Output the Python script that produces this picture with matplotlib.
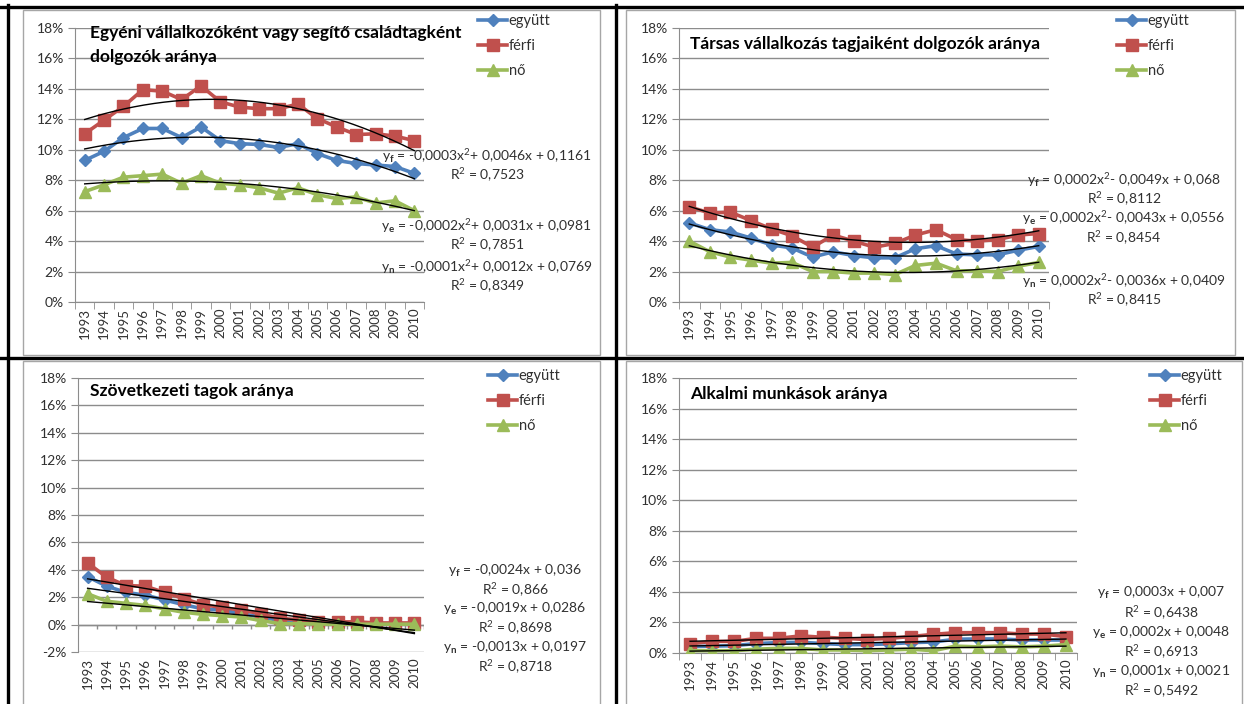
import numpy as np
import matplotlib
matplotlib.use("Agg")
import matplotlib.pyplot as plt
from matplotlib.lines import Line2D
from matplotlib.patches import Rectangle
from matplotlib.ticker import FixedLocator, FuncFormatter

plt.rcParams['font.family'] = ['Lato', 'DejaVu Sans']
plt.rcParams['mathtext.fontset'] = 'custom'
plt.rcParams['mathtext.rm'] = 'Lato'
plt.rcParams['mathtext.it'] = 'Lato:italic'
plt.rcParams['mathtext.bf'] = 'Lato:bold'

years = [str(y) for y in range(1993, 2011)]
series_labels = ["együtt", "férfi", "nő"]

# Panel 1: Egyéni vállalkozóként vagy segítő családtagként dolgozók aránya (%)
egyeni_egyutt = [9.3, 9.9, 10.8, 11.4, 11.4, 10.8, 11.5, 10.6, 10.4, 10.35, 10.15, 10.4, 9.75, 9.3, 9.1, 9.0, 8.9, 8.45]
egyeni_ferfi = [11.05, 11.95, 12.85, 13.95, 13.85, 13.3, 14.2, 13.15, 12.8, 12.7, 12.7, 13.0, 12.05, 11.5, 11.0, 11.05, 10.9, 10.6]
egyeni_no = [7.25, 7.7, 8.2, 8.3, 8.4, 7.8, 8.3, 7.8, 7.7, 7.5, 7.15, 7.5, 7.05, 6.8, 6.9, 6.5, 6.65, 6.0]
egyeni_eq = ["y$_{\\mathbf{f}}$ = -0,0003x$^{2}$+ 0,0046x + 0,1161", "R$^{2}$ = 0,7523",
             "y$_{\\mathbf{e}}$ = -0,0002x$^{2}$+ 0,0031x + 0,0981", "R$^{2}$ = 0,7851",
             "y$_{\\mathbf{n}}$ = -0,0001x$^{2}$+ 0,0012x + 0,0769", "R$^{2}$ = 0,8349"]

# Panel 2: Társas vállalkozás tagjaiként dolgozók aránya (%)
tarsas_egyutt = [5.2, 4.75, 4.6, 4.2, 3.75, 3.55, 2.95, 3.3, 3.05, 2.9, 2.9, 3.5, 3.7, 3.15, 3.1, 3.1, 3.4, 3.65]
tarsas_ferfi = [6.25, 5.85, 5.9, 5.35, 4.8, 4.35, 3.6, 4.4, 4.0, 3.6, 3.85, 4.4, 4.75, 4.1, 4.0, 4.1, 4.4, 4.5]
tarsas_no = [4.0, 3.3, 2.95, 2.75, 2.55, 2.6, 2.0, 2.0, 1.9, 1.9, 1.8, 2.4, 2.55, 2.05, 2.05, 2.0, 2.35, 2.6]
tarsas_eq = ["y$_{\\mathbf{f}}$ = 0,0002x$^{2}$- 0,0049x + 0,068", "R$^{2}$ = 0,8112",
             "y$_{\\mathbf{e}}$ = 0,0002x$^{2}$- 0,0043x + 0,0556", "R$^{2}$ = 0,8454",
             "y$_{\\mathbf{n}}$ = 0,0002x$^{2}$- 0,0036x + 0,0409", "R$^{2}$ = 0,8415"]

# Panel 3: Szövetkezeti tagok aránya (%)
szov_egyutt = [3.5, 2.8, 2.35, 2.15, 1.8, 1.45, 1.15, 1.05, 0.8, 0.55, 0.3, 0.25, 0.12, 0.07, 0.06, 0.05, 0.05, 0.05]
szov_ferfi = [4.5, 3.45, 2.85, 2.8, 2.35, 1.9, 1.45, 1.25, 1.05, 0.8, 0.45, 0.35, 0.2, 0.2, 0.2, 0.12, 0.12, 0.12]
szov_no = [2.25, 1.7, 1.55, 1.4, 1.15, 0.9, 0.75, 0.65, 0.55, 0.3, 0.07, 0.07, 0.04, 0.03, 0.03, 0.03, 0.03, 0.03]
szov_eq = ["y$_{\\mathbf{f}}$ = -0,0024x + 0,036", "R$^{2}$ = 0,866",
           "y$_{\\mathbf{e}}$ = -0,0019x + 0,0286", "R$^{2}$ = 0,8698",
           "y$_{\\mathbf{n}}$ = -0,0013x + 0,0197", "R$^{2}$ = 0,8718"]

# Panel 4: Alkalmi munkások aránya (%)
alk_egyutt = [0.42, 0.45, 0.48, 0.62, 0.68, 0.7, 0.62, 0.55, 0.55, 0.6, 0.68, 0.72, 0.9, 0.92, 0.92, 0.85, 0.85, 0.85]
alk_ferfi = [0.6, 0.76, 0.76, 0.96, 0.96, 1.12, 1.03, 0.96, 0.88, 0.96, 1.08, 1.22, 1.33, 1.33, 1.33, 1.24, 1.24, 1.07]
alk_no = [0.15, 0.15, 0.15, 0.25, 0.3, 0.3, 0.2, 0.2, 0.15, 0.2, 0.25, 0.15, 0.45, 0.4, 0.45, 0.4, 0.45, 0.55]
alk_eq = ["y$_{\\mathbf{f}}$ = 0,0003x + 0,007", "R$^{2}$ = 0,6438",
          "y$_{\\mathbf{e}}$ = 0,0002x + 0,0048", "R$^{2}$ = 0,6913",
          "y$_{\\mathbf{n}}$ = 0,0001x + 0,0021", "R$^{2}$ = 0,5492"]

W, H = 1244, 704
fig = plt.figure(figsize=(W / 100, H / 100), dpi=100)

BLUE, RED, GREEN = "#4F81BD", "#C0504D", "#9BBB59"
GRID = "#8C8C8C"
TXT = "#303030"


def fx(x):
    return x / W


def fy(y):
    return 1 - y / H


# outer decoration: black separators and gray chart-area frames
for (x0, y0, x1, y1) in [(0, 6.5, W, 6.5), (0, 358, W, 358)]:
    fig.add_artist(Line2D([fx(x0), fx(x1)], [fy(y0), fy(y1)], color="black", lw=2.4))
for (x0, y0, x1, y1) in [(8, 5, 8, H), (615.5, 5, 615.5, H)]:
    fig.add_artist(Line2D([fx(x0), fx(x1)], [fy(y0), fy(y1)], color="black", lw=2.4))
for (l, t, r, b) in [(23, 10, 600, 355), (626, 10, 1235, 355), (23, 361, 600, H + 5), (626, 361, 1242, H + 5)]:
    fig.add_artist(Rectangle((fx(l), fy(b)), fx(r - l), (b - t) / H, fill=False,
                             ec="#A6A6A6", lw=1.0, transform=fig.transFigure))


def panel(box, ylim, egy, fer, no, deg, title, title_xy, eqs, eq_x, eq_ys, leg_xy):
    l, t, r, b = box
    ax = fig.add_axes([fx(l), fy(b), fx(r - l), (b - t) / H])
    x = np.arange(len(years))
    ax.set_xlim(-0.5, len(years) - 0.5)
    ax.set_ylim(*ylim)
    yt = np.arange(ylim[0], ylim[1] + 0.01, 2)
    ax.set_yticks(yt)
    ax.yaxis.set_major_formatter(FuncFormatter(lambda v, p: f"{v:.0f}%"))
    ax.yaxis.grid(True, color=GRID, lw=1.0)
    ax.set_axisbelow(True)
    ax.set_xticks(x)
    ax.set_xticklabels(years, rotation=90)
    ax.xaxis.set_minor_locator(FixedLocator(np.arange(-0.5, len(years), 1)))
    ax.tick_params(axis="x", which="major", length=0, pad=4, labelsize=9.5, labelcolor=TXT)
    ax.tick_params(axis="x", which="minor", length=5, color=GRID, direction="out")
    ax.tick_params(axis="y", length=5, color=GRID, direction="out", labelsize=10, labelcolor=TXT, pad=3)
    for s in ["top", "right"]:
        ax.spines[s].set_visible(False)
    for s in ["left", "bottom"]:
        ax.spines[s].set_color(GRID)
    if ylim[0] < 0:
        # category axis crosses at 0, labels stay at the bottom
        ax.spines["bottom"].set_visible(False)
        ax.tick_params(axis="x", which="minor", length=0)
        ax.axhline(0, color=GRID, lw=1.0, zorder=1)
        ax.vlines(np.arange(-0.5, len(years), 1), 0, -0.35, color=GRID, lw=1.0, zorder=1)
    ax.plot(x, egy, color=BLUE, lw=2.6, marker="D", ms=6.5, label=series_labels[0], zorder=3)
    ax.plot(x, fer, color=RED, lw=2.6, marker="s", ms=8, label=series_labels[1], zorder=3)
    ax.plot(x, no, color=GREEN, lw=2.6, marker="^", ms=8, label=series_labels[2], zorder=3)
    xs = np.linspace(0, len(years) - 1, 200)
    for ser in (fer, egy, no):
        c = np.polyfit(x + 1, ser, deg)
        ax.plot(xs, np.polyval(c, xs + 1), color="black", lw=1.0, zorder=4)
    fig.text(fx(title_xy[0]), fy(title_xy[1]), title, fontsize=12.5, fontweight="bold",
             color="black", va="center", ha="left", linespacing=1.55)
    for s, yy in zip(eqs, eq_ys):
        fig.text(fx(eq_x), fy(yy), s, fontsize=10, color=TXT, ha="center", va="center")
    ax.legend(loc="upper left", bbox_to_anchor=(fx(leg_xy[0]), fy(leg_xy[1])),
              bbox_transform=fig.transFigure, frameon=False, fontsize=10.5,
              handlelength=2.0, handletextpad=0.1, labelspacing=0.75, borderpad=0,
              borderaxespad=0, labelcolor=TXT)
    return ax


panel((75, 28, 424, 302), (0, 18), egyeni_egyutt, egyeni_ferfi, egyeni_no, 2,
      "Egyéni vállalkozóként vagy segítő családtagként\ndolgozók aránya", (90, 45),
      egyeni_eq, 487, [156, 175, 226, 245, 267, 286], (478, 14))
panel((679, 28, 1049, 302), (0, 18), tarsas_egyutt, tarsas_ferfi, tarsas_no, 2,
      "Társas vállalkozás tagjaiként dolgozók aránya", (690, 44),
      tarsas_eq, 1124, [180, 199, 218, 238, 281, 300], (1117, 14))
panel((78, 378, 424, 652), (-2, 18), szov_egyutt, szov_ferfi, szov_no, 1,
      "Szövetkezeti tagok aránya", (90, 391),
      szov_eq, 515, [571, 590, 609, 628, 648, 667], (488, 369))
panel((679, 378, 1077, 653), (0, 18), alk_egyutt, alk_ferfi, alk_no, 1,
      "Alkalmi munkások aránya", (690, 394),
      alk_eq, 1161, [593, 613, 633, 652, 672, 691], (1150, 369))

fig.savefig("out.png", dpi=100)
